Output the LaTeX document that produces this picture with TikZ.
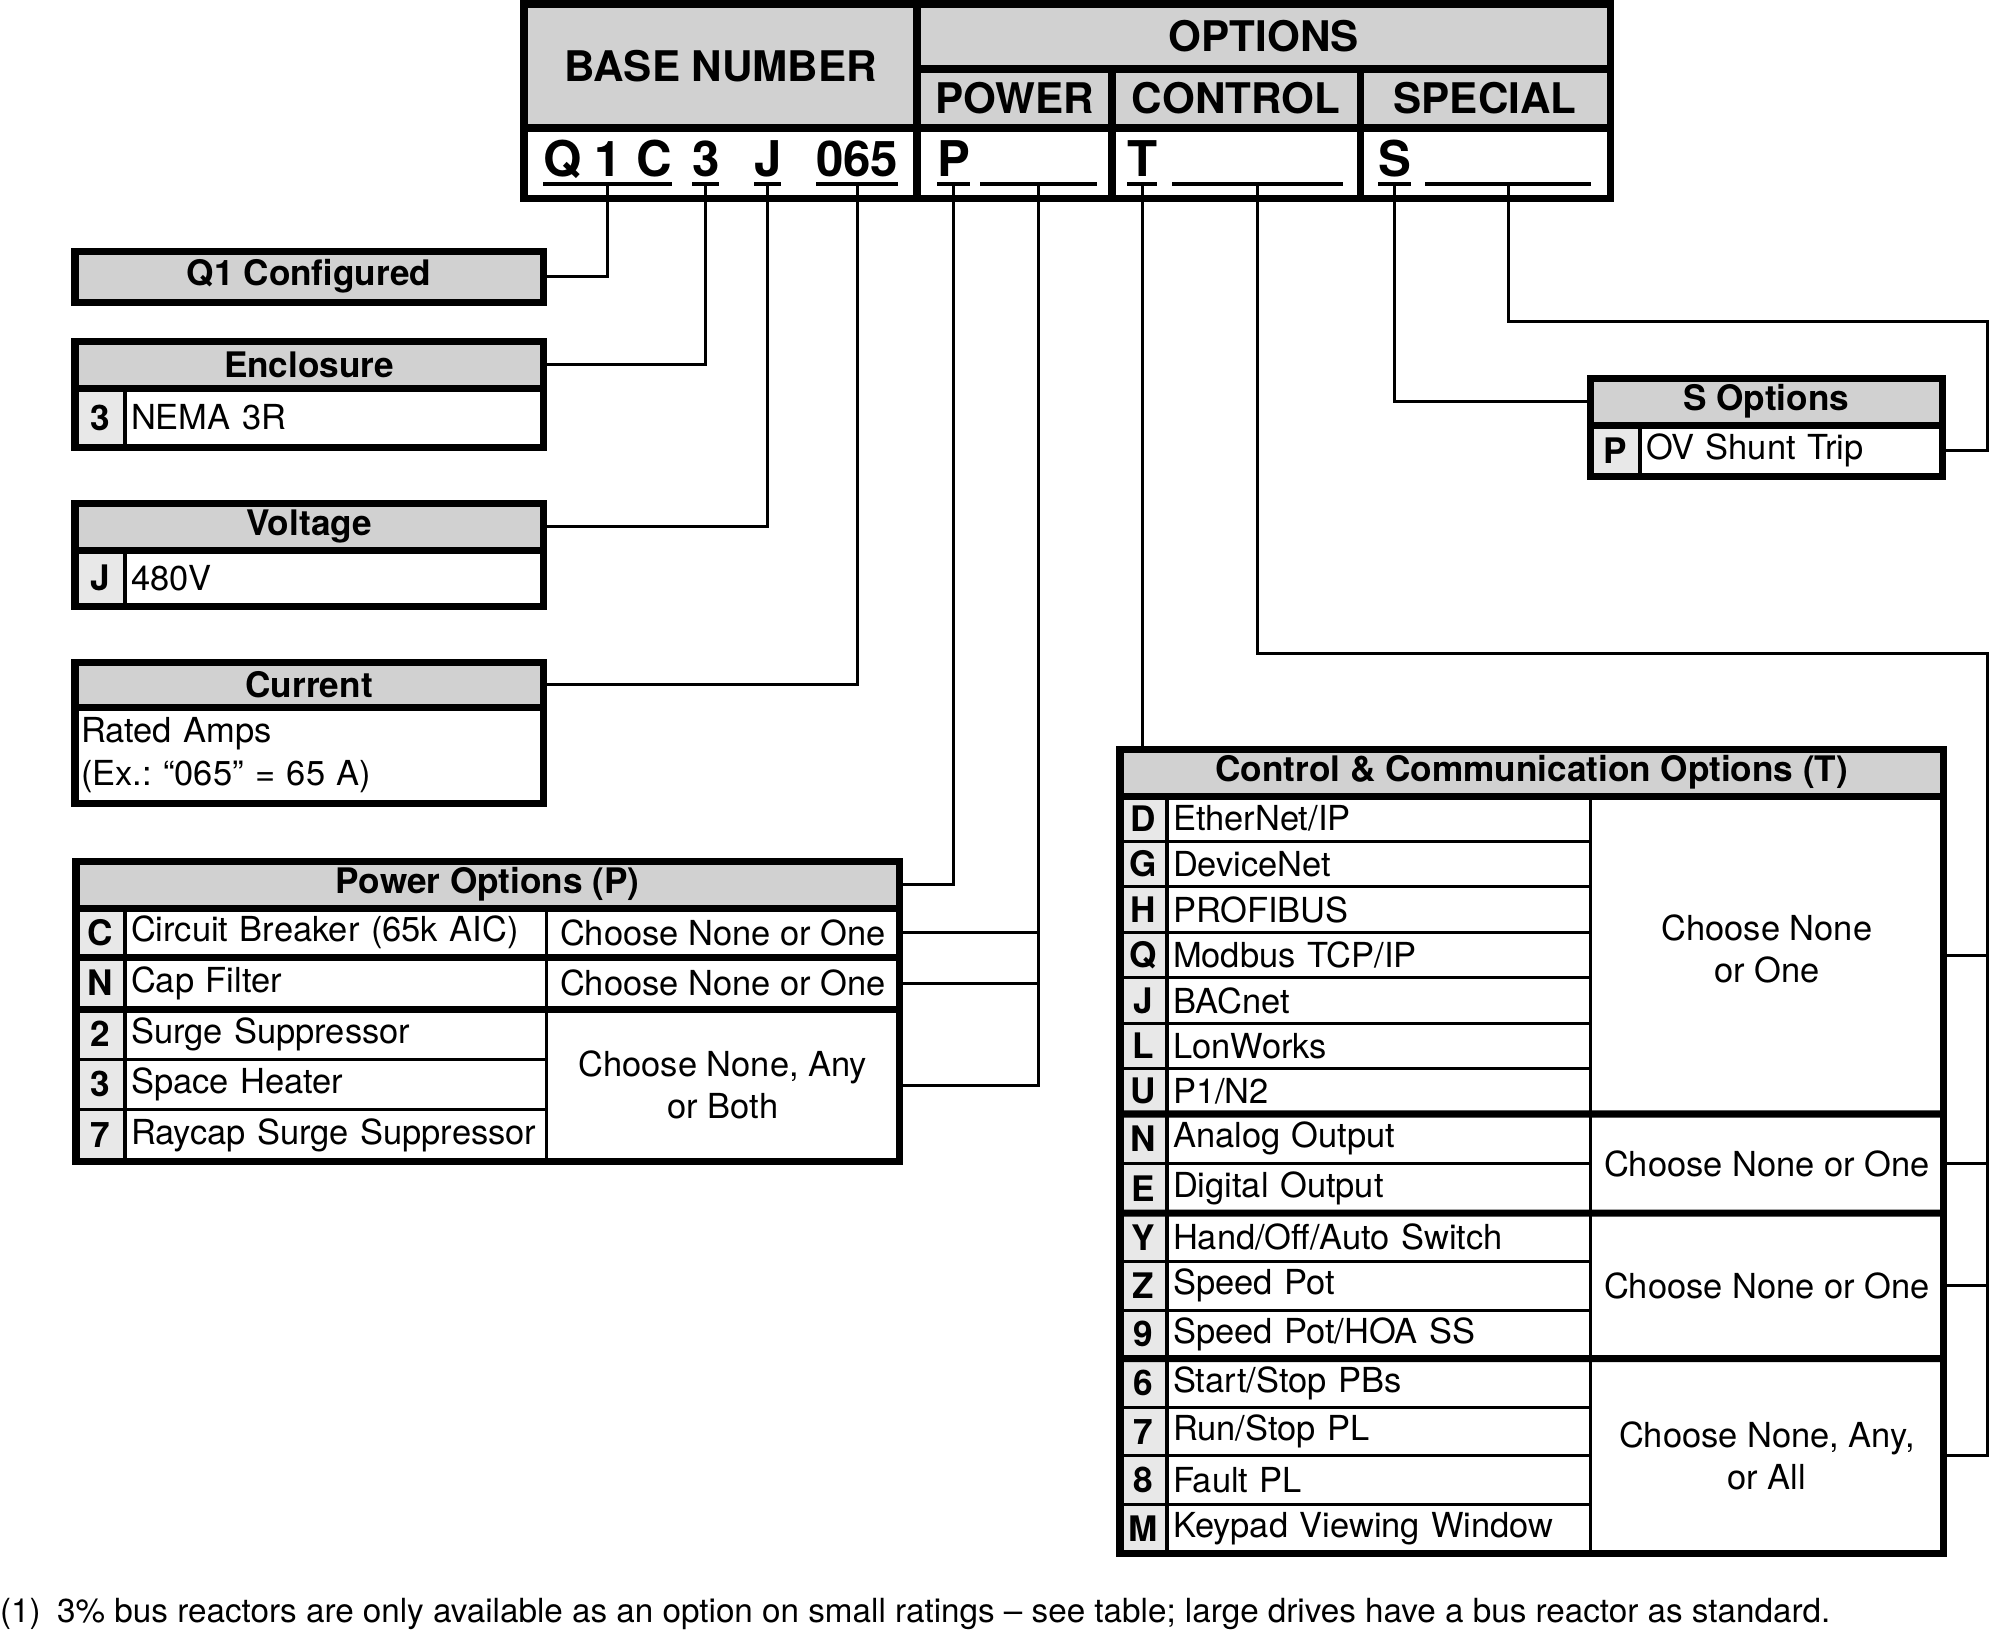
\documentclass[tikz,border=0pt]{standalone}
\usepackage{fontspec}
\setmainfont{TeX Gyre Heros}
\usepackage{xcolor}
\usepackage{tikz}
\usetikzlibrary{positioning}

\definecolor{hdrgray}{gray}{0.82}
\definecolor{codegray}{gray}{0.91}
\frenchspacing

\begin{document}
\begin{tikzpicture}[
        x=0.01cm, y=-0.01cm,
        font=\fontsize{9.8}{12}\selectfont,
        every node/.style={inner sep=0pt, outer sep=0pt},
        cellbox/.style={rectangle, draw=black, line width=0.9pt, anchor=north west},
        titlebox/.style={cellbox, fill=hdrgray, font=\fontsize{10}{12}\selectfont\bfseries},
        headbox/.style={cellbox, fill=hdrgray, line width=2pt, font=\fontsize{12}{14}\selectfont\bfseries},
        valbox/.style={cellbox, fill=white, line width=2pt},
        codebox/.style={cellbox, fill=codegray, font=\fontsize{10}{12}\selectfont\bfseries},
        descbox/.style={cellbox, fill=white, align=left, inner xsep=0.06cm},
        choosebox/.style={cellbox, fill=white, align=center},
        val/.style={anchor=base west, font=\fontsize{14}{16}\selectfont\bfseries},
        uline/.style={line width=1.4pt},
        thickline/.style={line width=2pt},
        conn/.style={line width=0.85pt}
    ]
        \useasboundingbox (0,0) rectangle (1991,1635);

        %--- Catalog number header ---
        \node[headbox, minimum width=3.93cm, minimum height=1.24cm] (base) at (524,4) {BASE NUMBER};
        \node[headbox, minimum width=6.93cm, minimum height=0.65cm] (opts) at (917,4) {OPTIONS};
        \node[headbox, minimum width=1.95cm, minimum height=0.59cm] (pow) at (917,69) {POWER};
        \node[headbox, minimum width=2.48cm, minimum height=0.59cm] (ctl) at (1112,69) {CONTROL};
        \node[headbox, minimum width=2.50cm, minimum height=0.59cm] (spc) at (1360,69) {SPECIAL};
        \node[valbox, minimum width=3.93cm, minimum height=0.70cm] (vbase) at (524,128) {};
        \node[valbox, minimum width=1.95cm, minimum height=0.70cm] (vpow) at (917,128) {};
        \node[valbox, minimum width=2.48cm, minimum height=0.70cm] (vctl) at (1112,128) {};
        \node[valbox, minimum width=2.50cm, minimum height=0.70cm] (vspc) at (1360,128) {};

        %--- Code letters and blanks ---
        \node[val] (v-q1c) at (543,176) {Q 1 C};
        \node[val] (v-3) at (692,176) {3};
        \node[val] (v-j) at (754,176) {J};
        \node[val] (v-065) at (816,176) {065};
        \node[val] (v-p) at (937,176) {P};
        \node[val, minimum width=1.17cm] (v-pb) at (980,176) {};
        \node[val] (v-t) at (1127,176) {T};
        \node[val, minimum width=1.71cm] (v-tb) at (1172,176) {};
        \node[val] (v-s) at (1378,176) {S};
        \node[val, minimum width=1.66cm] (v-sb) at (1425,176) {};

        \draw[uline] ([yshift=-0.08cm]v-q1c.base west) -- ([yshift=-0.08cm]v-q1c.base east);
        \draw[uline] ([yshift=-0.08cm]v-3.base west) -- ([yshift=-0.08cm]v-3.base east);
        \draw[uline] ([yshift=-0.08cm]v-j.base west) -- ([yshift=-0.08cm]v-j.base east);
        \draw[uline] ([yshift=-0.08cm]v-065.base west) -- ([yshift=-0.08cm]v-065.base east);
        \draw[uline] ([yshift=-0.08cm]v-p.base west) -- ([yshift=-0.08cm]v-p.base east);
        \draw[uline] ([yshift=-0.08cm]v-pb.base west) -- ([yshift=-0.08cm]v-pb.base east);
        \draw[uline] ([yshift=-0.08cm]v-t.base west) -- ([yshift=-0.08cm]v-t.base east);
        \draw[uline] ([yshift=-0.08cm]v-tb.base west) -- ([yshift=-0.08cm]v-tb.base east);
        \draw[uline] ([yshift=-0.08cm]v-s.base west) -- ([yshift=-0.08cm]v-s.base east);
        \draw[uline] ([yshift=-0.08cm]v-sb.base west) -- ([yshift=-0.08cm]v-sb.base east);

        %--- Base number boxes (left) ---
        \node[titlebox, line width=2pt, minimum width=4.68cm, minimum height=0.51cm] (q1) at (75,251) {Q1 Configured};

        \node[titlebox, minimum width=4.68cm, minimum height=0.47cm] (enc) at (75,341) {Enclosure};
        \node[codebox, minimum width=0.50cm, minimum height=0.59cm] (enc-c) at (75,388) {3};
        \node[descbox, text width=4.06cm, minimum height=0.59cm, right=0pt of enc-c] (enc-d) {NEMA 3R};

        \node[titlebox, minimum width=4.68cm, minimum height=0.47cm] (volt) at (75,503) {Voltage};
        \node[codebox, minimum width=0.50cm, minimum height=0.56cm] (volt-c) at (75,550) {J};
        \node[descbox, text width=4.06cm, minimum height=0.56cm, right=0pt of volt-c] (volt-d) {480V};

        \node[titlebox, minimum width=4.68cm, minimum height=0.45cm] (cur) at (75,662) {Current};
        \node[descbox, text width=4.56cm, minimum height=0.96cm] (cur-d) at (75,707) {Rated Amps\\(Ex.: “065” = 65 A)};

        %--- Power options table ---
        \node[titlebox, minimum width=8.23cm, minimum height=0.47cm] (p-title) at (76,861) {Power Options (P)};
        \node[codebox, minimum width=0.49cm, minimum height=0.49cm] (pc-C) at (76,908) {C};
        \node[descbox, text width=4.09cm, minimum height=0.49cm, right=0pt of pc-C] (pd-C) {Circuit Breaker (65k AIC)};
        \node[choosebox, minimum width=3.53cm, minimum height=0.49cm, right=0pt of pd-C] (pch-1) {Choose None or One};
        \node[codebox, minimum width=0.49cm, minimum height=0.52cm, below=0pt of pc-C] (pc-N) {N};
        \node[descbox, text width=4.09cm, minimum height=0.52cm, right=0pt of pc-N] (pd-N) {Cap Filter};
        \node[choosebox, minimum width=3.53cm, minimum height=0.52cm, right=0pt of pd-N] (pch-2) {Choose None or One};
        \node[codebox, minimum width=0.49cm, minimum height=0.50cm, below=0pt of pc-N] (pc-2) {2};
        \node[descbox, text width=4.09cm, minimum height=0.50cm, right=0pt of pc-2] (pd-2) {Surge Suppressor};
        \node[codebox, minimum width=0.49cm, minimum height=0.50cm, below=0pt of pc-2] (pc-3) {3};
        \node[descbox, text width=4.09cm, minimum height=0.50cm, right=0pt of pc-3] (pd-3) {Space Heater};
        \node[codebox, minimum width=0.49cm, minimum height=0.52cm, below=0pt of pc-3] (pc-7) {7};
        \node[descbox, text width=4.09cm, minimum height=0.52cm, right=0pt of pc-7] (pd-7) {Raycap Surge Suppressor};
        \node[choosebox, minimum width=3.53cm, minimum height=1.52cm] (pch-3) at (pd-2.north east) {Choose None, Any\\or Both};

        %--- Control & communication table ---
        \node[titlebox, minimum width=8.23cm, minimum height=0.47cm] (c-title) at (1120,749) {Control \& Communication Options (T)};
        \node[codebox, minimum width=0.47cm, minimum height=0.454cm] (cc-D) at (1120,796) {D};
        \node[descbox, text width=4.11cm, minimum height=0.454cm, right=0pt of cc-D] (cd-D) {EtherNet/IP};
        \node[codebox, minimum width=0.47cm, minimum height=0.454cm, below=0pt of cc-D] (cc-G) {G};
        \node[descbox, text width=4.11cm, minimum height=0.454cm, right=0pt of cc-G] (cd-G) {DeviceNet};
        \node[codebox, minimum width=0.47cm, minimum height=0.454cm, below=0pt of cc-G] (cc-H) {H};
        \node[descbox, text width=4.11cm, minimum height=0.454cm, right=0pt of cc-H] (cd-H) {PROFIBUS};
        \node[codebox, minimum width=0.47cm, minimum height=0.454cm, below=0pt of cc-H] (cc-Q) {Q};
        \node[descbox, text width=4.11cm, minimum height=0.454cm, right=0pt of cc-Q] (cd-Q) {Modbus TCP/IP};
        \node[codebox, minimum width=0.47cm, minimum height=0.454cm, below=0pt of cc-Q] (cc-J) {J};
        \node[descbox, text width=4.11cm, minimum height=0.454cm, right=0pt of cc-J] (cd-J) {BACnet};
        \node[codebox, minimum width=0.47cm, minimum height=0.454cm, below=0pt of cc-J] (cc-L) {L};
        \node[descbox, text width=4.11cm, minimum height=0.454cm, right=0pt of cc-L] (cd-L) {LonWorks};
        \node[codebox, minimum width=0.47cm, minimum height=0.454cm, below=0pt of cc-L] (cc-U) {U};
        \node[descbox, text width=4.11cm, minimum height=0.454cm, right=0pt of cc-U] (cd-U) {P1/N2};
        \node[codebox, minimum width=0.47cm, minimum height=0.495cm, below=0pt of cc-U] (cc-N) {N};
        \node[descbox, text width=4.11cm, minimum height=0.495cm, right=0pt of cc-N] (cd-N) {Analog Output};
        \node[codebox, minimum width=0.47cm, minimum height=0.495cm, below=0pt of cc-N] (cc-E) {E};
        \node[descbox, text width=4.11cm, minimum height=0.495cm, right=0pt of cc-E] (cd-E) {Digital Output};
        \node[codebox, minimum width=0.47cm, minimum height=0.485cm, below=0pt of cc-E] (cc-Y) {Y};
        \node[descbox, text width=4.11cm, minimum height=0.485cm, right=0pt of cc-Y] (cd-Y) {Hand/Off/Auto Switch};
        \node[codebox, minimum width=0.47cm, minimum height=0.485cm, below=0pt of cc-Y] (cc-Z) {Z};
        \node[descbox, text width=4.11cm, minimum height=0.485cm, right=0pt of cc-Z] (cd-Z) {Speed Pot};
        \node[codebox, minimum width=0.47cm, minimum height=0.485cm, below=0pt of cc-Z] (cc-9) {9};
        \node[descbox, text width=4.11cm, minimum height=0.485cm, right=0pt of cc-9] (cd-9) {Speed Pot/HOA SS};
        \node[codebox, minimum width=0.47cm, minimum height=0.486cm, below=0pt of cc-9] (cc-6) {6};
        \node[descbox, text width=4.11cm, minimum height=0.486cm, right=0pt of cc-6] (cd-6) {Start/Stop PBs};
        \node[codebox, minimum width=0.47cm, minimum height=0.486cm, below=0pt of cc-6] (cc-7) {7};
        \node[descbox, text width=4.11cm, minimum height=0.486cm, right=0pt of cc-7] (cd-7) {Run/Stop PL};
        \node[codebox, minimum width=0.47cm, minimum height=0.486cm, below=0pt of cc-7] (cc-8) {8};
        \node[descbox, text width=4.11cm, minimum height=0.486cm, right=0pt of cc-8] (cd-8) {Fault PL};
        \node[codebox, minimum width=0.47cm, minimum height=0.486cm, below=0pt of cc-8] (cc-M) {M};
        \node[descbox, text width=4.11cm, minimum height=0.486cm, right=0pt of cc-M] (cd-M) {Keypad Viewing Window};
        \node[choosebox, minimum width=3.53cm, minimum height=3.178cm] (cch-1) at (cd-D.north east) {Choose None\\or One\\[-0.30cm]};
        \node[choosebox, minimum width=3.53cm, minimum height=0.99cm] (cch-2) at (cd-N.north east) {Choose None or One};
        \node[choosebox, minimum width=3.53cm, minimum height=1.455cm] (cch-3) at (cd-Y.north east) {Choose None or One};
        \node[choosebox, minimum width=3.53cm, minimum height=1.944cm] (cch-4) at (cd-6.north east) {Choose None, Any,\\or All};

        %--- Special options box ---
        \node[titlebox, minimum width=3.52cm, minimum height=0.47cm] (s-title) at (1590,378) {S Options};
        \node[codebox, minimum width=0.50cm, minimum height=0.51cm] (sc-P) at (1590,425) {P};
        \node[descbox, text width=2.90cm, minimum height=0.51cm, right=0pt of sc-P] (sd-P) {OV Shunt Trip};

        %--- Heavy frames and group rules ---
        \draw[thickline] (enc.north west) rectangle (enc-d.south east);
        \draw[thickline] (enc.south west) -- (enc.south east);
        \draw[thickline] (volt.north west) rectangle (volt-d.south east);
        \draw[thickline] (volt.south west) -- (volt.south east);
        \draw[thickline] (cur.north west) rectangle (cur-d.south east);
        \draw[thickline] (cur.south west) -- (cur.south east);
        \draw[thickline] (p-title.north west) rectangle (pch-3.south east);
        \draw[thickline] (p-title.south west) -- (p-title.south east);
        \draw[thickline] (pc-C.south west) -- (pch-1.south east);
        \draw[thickline] (pc-N.south west) -- (pch-2.south east);
        \draw[thickline] (c-title.north west) rectangle (cch-4.south east);
        \draw[thickline] (c-title.south west) -- (c-title.south east);
        \draw[thickline] (cc-U.south west) -- (cch-1.south east);
        \draw[thickline] (cc-E.south west) -- (cch-2.south east);
        \draw[thickline] (cc-9.south west) -- (cch-3.south east);
        \draw[thickline] (s-title.north west) rectangle (sd-P.south east);
        \draw[thickline] (s-title.south west) -- (s-title.south east);

        %--- Connectors from the code letters ---
        \coordinate (ctrunk) at (1987,653);
        \coordinate (strunk) at (1987,321);
        \draw[conn] ([yshift=-0.08cm]v-q1c.base) |- (q1.east);
        \draw[conn] ([yshift=-0.08cm]v-3.base) |- (enc.east);
        \draw[conn] ([yshift=-0.08cm]v-j.base) |- (volt.east);
        \draw[conn] ([yshift=-0.08cm]v-065.base) |- (cur.east);
        \draw[conn] ([yshift=-0.08cm]v-p.base) |- (p-title.east);
        \draw[conn] ([yshift=-0.08cm]v-pb.base) |- (pch-3.east);
        \draw[conn] (pch-1.east) -- (pch-1.east -| v-pb.base);
        \draw[conn] (pch-2.east) -- (pch-2.east -| v-pb.base);
        \draw[conn] ([yshift=-0.08cm]v-t.base) -- (v-t.base |- c-title.north);
        \draw[conn] ([yshift=-0.08cm]v-tb.base) |- (ctrunk) |- (cch-4.east);
        \draw[conn] (cch-1.east) -- (cch-1.east -| ctrunk);
        \draw[conn] (cch-2.east) -- (cch-2.east -| ctrunk);
        \draw[conn] (cch-3.east) -- (cch-3.east -| ctrunk);
        \draw[conn] ([yshift=-0.08cm]v-s.base) |- (s-title.west);
        \draw[conn] ([yshift=-0.08cm]v-sb.base) |- (strunk) |- (sd-P.east);

        %--- Footnote ---
        \node[anchor=base west, font=\fontsize{9.45}{11}\selectfont] (note) at (0,1622) {(1)\enspace 3\% bus reactors are only available as an option on small ratings – see table; large drives have a bus reactor as standard.};
    \end{tikzpicture}
\end{document}
